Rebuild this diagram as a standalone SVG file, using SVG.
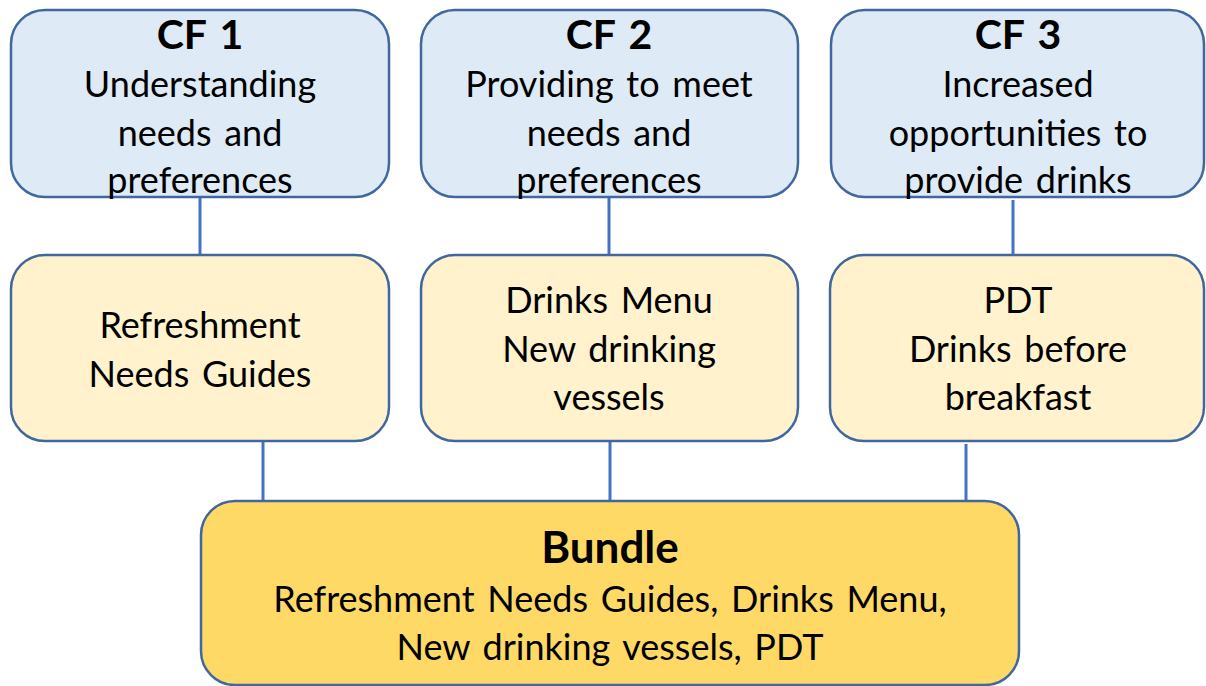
<svg xmlns="http://www.w3.org/2000/svg" width="1206" height="686" viewBox="0 0 1206 686">
  <style>
    .cf { fill: #DEEBF7; stroke: #41679F; stroke-width: 2.5; }
    .tool { fill: #FFF2CC; stroke: #41679F; stroke-width: 2.5; }
    .bundle { fill: #FFD966; stroke: #41679F; stroke-width: 2.5; }
    .link { stroke: #4472C4; stroke-width: 3; fill: none; }
    text { font-family: Lato, "Open Sans", "Liberation Sans", sans-serif; fill: #000; text-anchor: middle; font-size: 36px; word-spacing: 3.5px; }
    .head { font-weight: bold; font-size: 41px; }
    .big { font-weight: bold; font-size: 44px; }
  </style>
  <rect width="1206" height="686" fill="#FFFFFF"/>

  <!-- connectors -->
  <g id="connectors">
    <line class="link" x1="200" y1="197" x2="200" y2="256"/>
    <line class="link" x1="609" y1="197" x2="609" y2="256"/>
    <line class="link" x1="1013" y1="200" x2="1013" y2="256"/>
    <line class="link" x1="263" y1="441" x2="263" y2="501"/>
    <line class="link" x1="610" y1="441" x2="610" y2="501"/>
    <line class="link" x1="966" y1="444" x2="966" y2="501"/>
  </g>

  <!-- critical features -->
  <g id="cf1">
    <rect class="cf" x="11" y="10" width="378" height="187" rx="34"/>
    <text class="head" x="200" y="49">CF 1</text>
    <text x="200" y="97">Understanding</text>
    <text x="200" y="146">needs and</text>
    <text x="200" y="193">preferences</text>
  </g>
  <g id="cf2">
    <rect class="cf" x="421" y="10" width="377" height="187" rx="34"/>
    <text class="head" x="609" y="49">CF 2</text>
    <text x="609" y="97">Providing to meet</text>
    <text x="609" y="146">needs and</text>
    <text x="609" y="193">preferences</text>
  </g>
  <g id="cf3">
    <rect class="cf" x="831" y="10" width="373" height="187" rx="34"/>
    <text class="head" x="1018" y="49">CF 3</text>
    <text x="1018" y="97">Increased</text>
    <text x="1018" y="146">opportunities to</text>
    <text x="1018" y="193">provide drinks</text>
  </g>

  <!-- tools -->
  <g id="tool1">
    <rect class="tool" x="11" y="255" width="378" height="186" rx="34"/>
    <text x="200" y="338">Refreshment</text>
    <text x="200" y="387">Needs Guides</text>
  </g>
  <g id="tool2">
    <rect class="tool" x="421" y="255" width="377" height="186" rx="34"/>
    <text x="609" y="313">Drinks Menu</text>
    <text x="609" y="362">New drinking</text>
    <text x="609" y="410">vessels</text>
  </g>
  <g id="tool3">
    <rect class="tool" x="830" y="255" width="374" height="186" rx="34"/>
    <text x="1018" y="313">PDT</text>
    <text x="1018" y="362">Drinks before</text>
    <text x="1018" y="410">breakfast</text>
  </g>

  <!-- bundle -->
  <g id="bundle">
    <rect class="bundle" x="201" y="501" width="818" height="184" rx="34"/>
    <text class="big" x="610" y="563">Bundle</text>
    <text x="610" y="612">Refreshment Needs Guides, Drinks Menu,</text>
    <text x="610" y="660">New drinking vessels, PDT</text>
  </g>
</svg>
